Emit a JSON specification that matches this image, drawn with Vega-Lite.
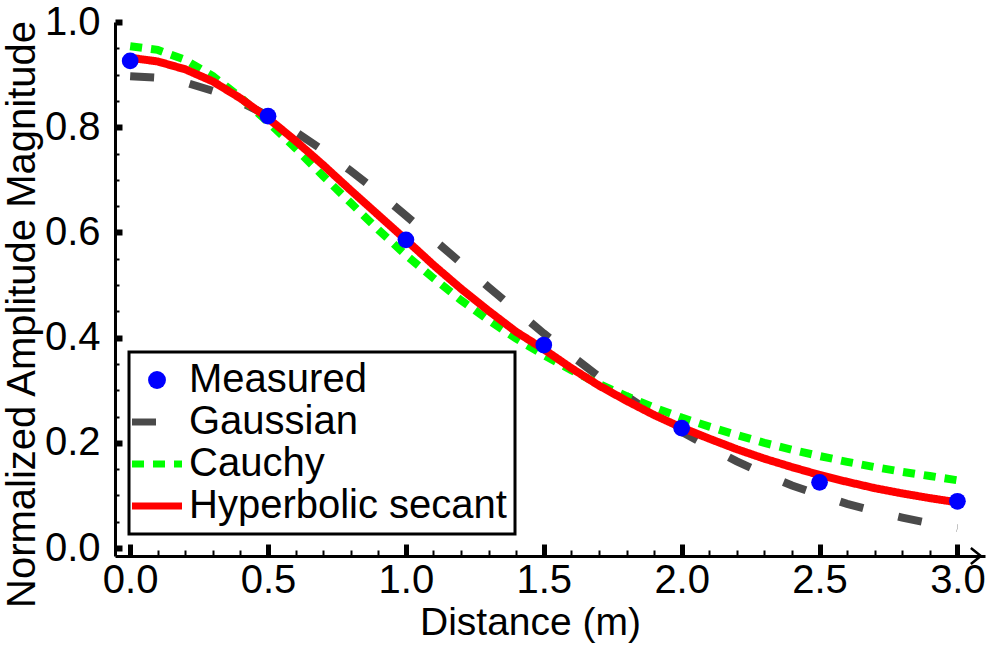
{
  "$schema": "https://vega.github.io/schema/vega-lite/v6.json",
  "width": 870,
  "height": 534,
  "autosize": {"type": "none"},
  "padding": {"left": 115, "top": 22, "right": 7, "bottom": 99},
  "background": "white",
  "config": {
    "view": {"stroke": null},
    "axis": {"grid": false, "domainColor": "black", "tickColor": "black", "labelColor": "black", "titleColor": "black", "labelFont": "Liberation Sans", "titleFont": "Liberation Sans", "titleFontWeight": "normal"}
  },
  "datasets": {
    "curves": [
      {"d": 0.0, "v": 0.897, "s": "Gaussian"}, {"d": 0.1, "v": 0.894, "s": "Gaussian"}, {"d": 0.2, "v": 0.885, "s": "Gaussian"}, {"d": 0.3, "v": 0.869, "s": "Gaussian"}, {"d": 0.4, "v": 0.848, "s": "Gaussian"}, {"d": 0.5, "v": 0.822, "s": "Gaussian"}, {"d": 0.6, "v": 0.791, "s": "Gaussian"}, {"d": 0.7, "v": 0.756, "s": "Gaussian"}, {"d": 0.8, "v": 0.717, "s": "Gaussian"}, {"d": 0.9, "v": 0.676, "s": "Gaussian"}, {"d": 1.0, "v": 0.632, "s": "Gaussian"}, {"d": 1.1, "v": 0.587, "s": "Gaussian"}, {"d": 1.2, "v": 0.542, "s": "Gaussian"}, {"d": 1.3, "v": 0.496, "s": "Gaussian"}, {"d": 1.4, "v": 0.452, "s": "Gaussian"}, {"d": 1.5, "v": 0.408, "s": "Gaussian"}, {"d": 1.6, "v": 0.366, "s": "Gaussian"}, {"d": 1.7, "v": 0.326, "s": "Gaussian"}, {"d": 1.8, "v": 0.289, "s": "Gaussian"}, {"d": 1.9, "v": 0.254, "s": "Gaussian"}, {"d": 2.0, "v": 0.221, "s": "Gaussian"}, {"d": 2.1, "v": 0.192, "s": "Gaussian"}, {"d": 2.2, "v": 0.165, "s": "Gaussian"}, {"d": 2.3, "v": 0.141, "s": "Gaussian"}, {"d": 2.4, "v": 0.119, "s": "Gaussian"}, {"d": 2.5, "v": 0.101, "s": "Gaussian"}, {"d": 2.6, "v": 0.084, "s": "Gaussian"}, {"d": 2.7, "v": 0.070, "s": "Gaussian"}, {"d": 2.8, "v": 0.058, "s": "Gaussian"}, {"d": 2.9, "v": 0.047, "s": "Gaussian"}, {"d": 3.0, "v": 0.038, "s": "Gaussian"},
      {"d": 0.0, "v": 0.954, "s": "Cauchy"}, {"d": 0.1, "v": 0.947, "s": "Cauchy"}, {"d": 0.2, "v": 0.928, "s": "Cauchy"}, {"d": 0.3, "v": 0.897, "s": "Cauchy"}, {"d": 0.4, "v": 0.857, "s": "Cauchy"}, {"d": 0.5, "v": 0.810, "s": "Cauchy"}, {"d": 0.6, "v": 0.760, "s": "Cauchy"}, {"d": 0.7, "v": 0.707, "s": "Cauchy"}, {"d": 0.8, "v": 0.656, "s": "Cauchy"}, {"d": 0.9, "v": 0.605, "s": "Cauchy"}, {"d": 1.0, "v": 0.557, "s": "Cauchy"}, {"d": 1.1, "v": 0.513, "s": "Cauchy"}, {"d": 1.2, "v": 0.471, "s": "Cauchy"}, {"d": 1.3, "v": 0.433, "s": "Cauchy"}, {"d": 1.4, "v": 0.398, "s": "Cauchy"}, {"d": 1.5, "v": 0.367, "s": "Cauchy"}, {"d": 1.6, "v": 0.338, "s": "Cauchy"}, {"d": 1.7, "v": 0.312, "s": "Cauchy"}, {"d": 1.8, "v": 0.289, "s": "Cauchy"}, {"d": 1.9, "v": 0.267, "s": "Cauchy"}, {"d": 2.0, "v": 0.248, "s": "Cauchy"}, {"d": 2.1, "v": 0.231, "s": "Cauchy"}, {"d": 2.2, "v": 0.215, "s": "Cauchy"}, {"d": 2.3, "v": 0.200, "s": "Cauchy"}, {"d": 2.4, "v": 0.187, "s": "Cauchy"}, {"d": 2.5, "v": 0.175, "s": "Cauchy"}, {"d": 2.6, "v": 0.164, "s": "Cauchy"}, {"d": 2.7, "v": 0.154, "s": "Cauchy"}, {"d": 2.8, "v": 0.145, "s": "Cauchy"}, {"d": 2.9, "v": 0.137, "s": "Cauchy"}, {"d": 3.0, "v": 0.129, "s": "Cauchy"},
      {"d": 0.0, "v": 0.932, "s": "Hyperbolic secant"}, {"d": 0.1, "v": 0.925, "s": "Hyperbolic secant"}, {"d": 0.2, "v": 0.910, "s": "Hyperbolic secant"}, {"d": 0.3, "v": 0.887, "s": "Hyperbolic secant"}, {"d": 0.4, "v": 0.855, "s": "Hyperbolic secant"}, {"d": 0.5, "v": 0.817, "s": "Hyperbolic secant"}, {"d": 0.6, "v": 0.774, "s": "Hyperbolic secant"}, {"d": 0.7, "v": 0.728, "s": "Hyperbolic secant"}, {"d": 0.8, "v": 0.680, "s": "Hyperbolic secant"}, {"d": 0.9, "v": 0.633, "s": "Hyperbolic secant"}, {"d": 1.0, "v": 0.586, "s": "Hyperbolic secant"}, {"d": 1.1, "v": 0.538, "s": "Hyperbolic secant"}, {"d": 1.2, "v": 0.493, "s": "Hyperbolic secant"}, {"d": 1.3, "v": 0.451, "s": "Hyperbolic secant"}, {"d": 1.4, "v": 0.411, "s": "Hyperbolic secant"}, {"d": 1.5, "v": 0.378, "s": "Hyperbolic secant"}, {"d": 1.6, "v": 0.342, "s": "Hyperbolic secant"}, {"d": 1.7, "v": 0.309, "s": "Hyperbolic secant"}, {"d": 1.8, "v": 0.280, "s": "Hyperbolic secant"}, {"d": 1.9, "v": 0.253, "s": "Hyperbolic secant"}, {"d": 2.0, "v": 0.229, "s": "Hyperbolic secant"}, {"d": 2.1, "v": 0.208, "s": "Hyperbolic secant"}, {"d": 2.2, "v": 0.188, "s": "Hyperbolic secant"}, {"d": 2.3, "v": 0.170, "s": "Hyperbolic secant"}, {"d": 2.4, "v": 0.154, "s": "Hyperbolic secant"}, {"d": 2.5, "v": 0.139, "s": "Hyperbolic secant"}, {"d": 2.6, "v": 0.126, "s": "Hyperbolic secant"}, {"d": 2.7, "v": 0.114, "s": "Hyperbolic secant"}, {"d": 2.8, "v": 0.104, "s": "Hyperbolic secant"}, {"d": 2.9, "v": 0.095, "s": "Hyperbolic secant"}, {"d": 3.0, "v": 0.087, "s": "Hyperbolic secant"}
    ],
    "measured": [
      {"d": 0.0, "v": 0.926, "s": "Measured"}, {"d": 0.5, "v": 0.821, "s": "Measured"}, {"d": 1.0, "v": 0.586, "s": "Measured"}, {"d": 1.5, "v": 0.386, "s": "Measured"}, {"d": 2.0, "v": 0.228, "s": "Measured"}, {"d": 2.5, "v": 0.125, "s": "Measured"}, {"d": 3.0, "v": 0.089, "s": "Measured"}
    ]
  },
  "layer": [
    {
      "data": {"name": "curves"},
      "mark": {"type": "line", "strokeWidth": 8, "clip": true},
      "encoding": {
        "x": {"field": "d", "type": "quantitative", "scale": {"domain": [-0.055, 3.1], "nice": false, "zero": false},
          "axis": {"orient": "bottom", "values": [0, 0.5, 1, 1.5, 2, 2.5, 3], "format": ".1f", "labelFontSize": 40, "tickSize": -12, "tickWidth": 5, "domainWidth": 3, "labelPadding": 16, "title": "Distance (m)", "titleFontSize": 39, "titleX": 415, "titleY": 47, "titleAnchor": "middle", "titleBaseline": "top"}},
        "y": {"field": "v", "type": "quantitative", "scale": {"domain": [-0.015, 1.0], "nice": false, "zero": false},
          "axis": {"orient": "left", "values": [0, 0.2, 0.4, 0.6, 0.8, 1.0], "format": ".1f", "labelFontSize": 40, "tickSize": -7, "tickWidth": 6, "domainWidth": 3, "labelPadding": 22, "labelBaseline": "middle", "title": "Normalized Amplitude Magnitude", "titleFontSize": 40, "titleX": -73, "titleY": 292, "titleAnchor": "middle", "titleAngle": -90}},
        "color": {"field": "s", "type": "nominal", "sort": ["Measured", "Gaussian", "Cauchy", "Hyperbolic secant"],
          "scale": {"domain": ["Measured", "Gaussian", "Cauchy", "Hyperbolic secant"], "range": ["#0000ff", "#4a4a4a", "#00ff00", "#ff0000"]},
          "legend": {"orient": "none", "legendX": 14, "legendY": 330, "title": null, "strokeColor": "black", "padding": 8, "labelFont": "Liberation Sans", "labelFontSize": 40, "labelColor": "black", "labelOffset": 12, "labelLimit": 500, "rowPadding": 2, "symbolType": "stroke", "symbolSize": 2500, "symbolStrokeWidth": 7,
            "encode": {"legend": {"update": {"strokeWidth": {"value": 3}}},
              "symbols": {"update": {"shape": {"signal": "datum.value === 'Measured' ? 'circle' : 'stroke'"}, "size": {"signal": "datum.value === 'Measured' ? 320 : 2500"}, "fill": {"signal": "datum.value === 'Measured' ? '#0000ff' : 'transparent'"}, "strokeWidth": {"signal": "datum.value === 'Measured' ? 0 : 7"}}}}}},
        "strokeDash": {"field": "s", "type": "nominal", "sort": ["Measured", "Gaussian", "Cauchy", "Hyperbolic secant"],
          "scale": {"domain": ["Measured", "Gaussian", "Cauchy", "Hyperbolic secant"], "range": [[1, 0], [24, 36], [12, 9], [1, 0]]}, "legend": null}
      }
    },
    {
      "data": {"name": "measured"},
      "mark": {"type": "point", "filled": true, "size": 280, "opacity": 1, "color": "#0000ff"},
      "encoding": {
        "x": {"field": "d", "type": "quantitative",
          "axis": {"orient": "bottom", "values": [0.1, 0.2, 0.3, 0.4, 0.6, 0.7, 0.8, 0.9, 1.1, 1.2, 1.3, 1.4, 1.6, 1.7, 1.8, 1.9, 2.1, 2.2, 2.3, 2.4, 2.6, 2.7, 2.8, 2.9], "labels": false, "domain": false, "tickSize": -6, "tickWidth": 2, "title": null}},
        "y": {"field": "v", "type": "quantitative",
          "axis": {"orient": "left", "values": [0.05, 0.1, 0.15, 0.25, 0.3, 0.35, 0.45, 0.5, 0.55, 0.65, 0.7, 0.75, 0.85, 0.9, 0.95], "labels": false, "domain": false, "tickSize": -4, "tickWidth": 2, "title": null}}
      }
    },
    {
      "data": {"values": [{"d": 3.085, "v": -0.015}]},
      "mark": {"type": "point", "shape": "M-1,-0.8L0,0L-1,0.8", "size": 400, "filled": false, "stroke": "black", "color": "black", "opacity": 1, "strokeWidth": 2.5, "clip": false},
      "encoding": {
        "x": {"field": "d", "type": "quantitative", "axis": null},
        "y": {"field": "v", "type": "quantitative", "axis": null}
      }
    }
  ],
  "resolve": {"axis": {"x": "independent", "y": "independent"}}
}
